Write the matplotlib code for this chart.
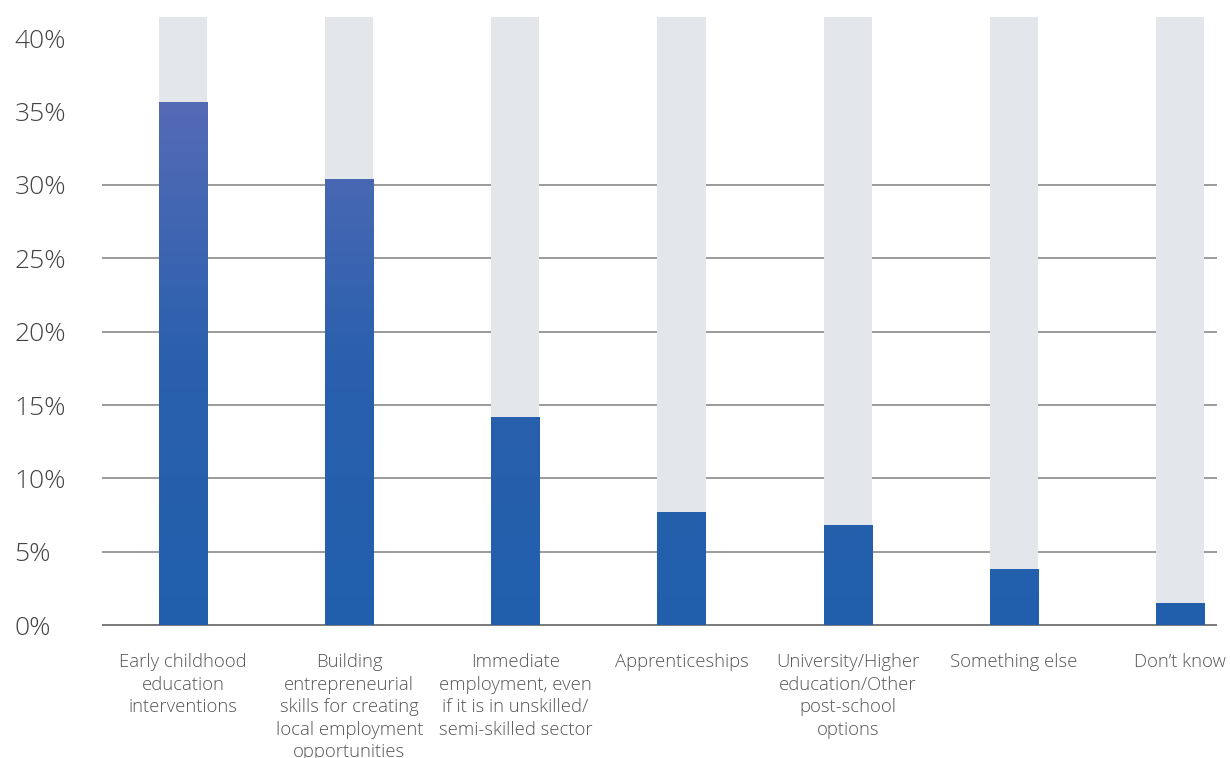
import numpy as np
import matplotlib.pyplot as plt
from matplotlib.colors import LinearSegmentedColormap

# data
categories = [
    "Early childhood\neducation\ninterventions",
    "Building\nentrepreneurial\nskills for creating\nlocal employment\nopportunities",
    "Immediate\nemployment, even\nif it is in unskilled/\nsemi-skilled sector",
    "Apprenticeships",
    "University/Higher\neducation/Other\npost-school\noptions",
    "Something else",
    "Don\u2019t know",
]
values = [35.8, 30.5, 14.3, 7.8, 6.95, 3.95, 1.6]
yticks = [0, 5, 10, 15, 20, 25, 30, 35, 40]
grid_levels = [0, 5, 10, 15, 20, 25, 30]

plt.rcParams['font.family'] = ['Open Sans', 'DejaVu Sans']

fig = plt.figure(figsize=(12.3, 7.58), dpi=100)
ax = fig.add_axes([102 / 1230, 1 - 626.8 / 758, (1217 - 102) / 1230, (626.8 - 17) / 758])

x = np.arange(len(categories))
ymax = 41.45

# light grey background columns
ax.bar(x, [ymax] * len(x), width=0.29, color='#e3e7eb', zorder=1)

# gridlines (only up to 30%)
for g in grid_levels:
    ax.axhline(g, color='#555555' if g == 0 else '#808080', lw=1.1, zorder=0.5)

# value bars with a vertical gradient
bars = ax.bar(x, values, width=0.29, bottom=-0.12, color='none', zorder=2)
cmap = LinearSegmentedColormap.from_list('grad', ['#215fac', '#2a60ad', '#566bb6'])
grad = np.linspace(0, 1, 256).reshape(-1, 1)
for b in bars:
    im = ax.imshow(grad, cmap=cmap, origin='lower', aspect='auto',
                   extent=(-0.5, 6.5, 0, 36), zorder=2)
    im.set_clip_path(b)
ax.set_xlim(-0.488, len(categories) - 1 + 0.223)
ax.set_ylim(-0.12, ymax)

ax.set_yticks(yticks)
ax.set_yticklabels([f"{t}%" for t in yticks], fontsize=19, color='#444444',
                   fontweight='light', ha='left')
ax.tick_params(axis='y', length=0, pad=63)

ax.set_xticks(x)
ax.set_xticklabels(categories, fontsize=13.3, color='#555555', fontweight='light',
                   linespacing=1.32, va='top')
ax.tick_params(axis='x', length=0, pad=19)

for s in ax.spines.values():
    s.set_visible(False)

fig.savefig('out.png', dpi=100)
